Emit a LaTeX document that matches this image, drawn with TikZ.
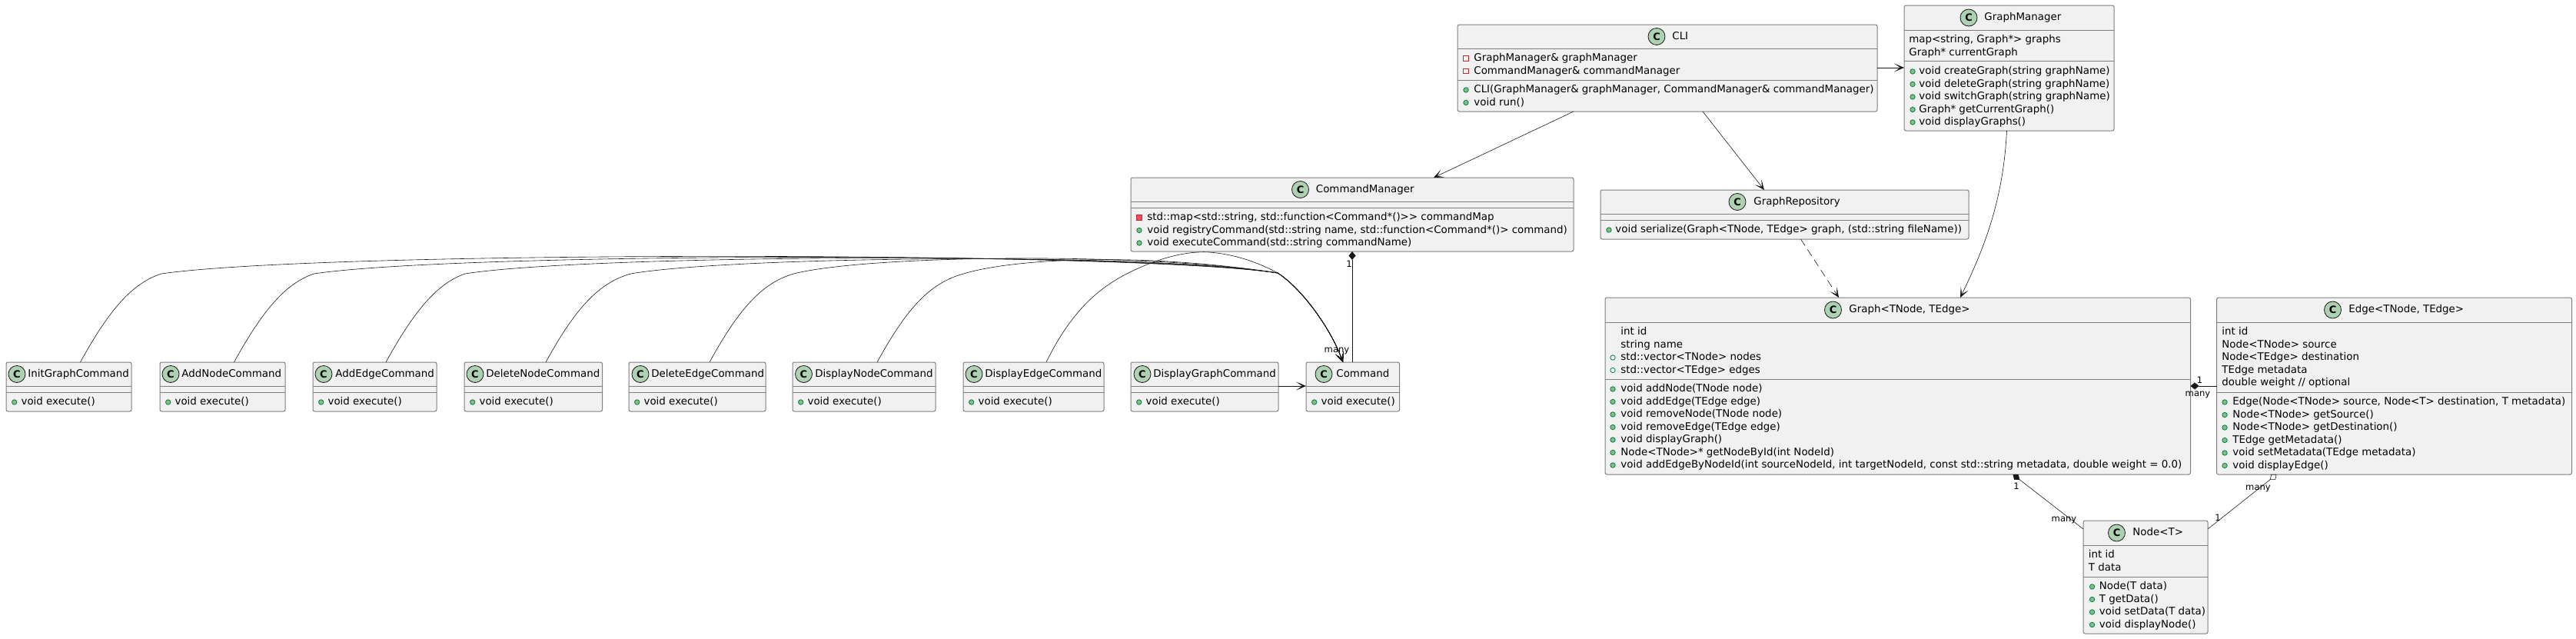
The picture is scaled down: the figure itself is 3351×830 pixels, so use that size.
\documentclass[tikz,border=0pt]{standalone}
\usepackage{fontspec}
\setmainfont{DejaVu Sans}
\usetikzlibrary{arrows.meta, fit}
\definecolor{boxfill}{HTML}{F1F1F1}
\definecolor{boxline}{HTML}{7F7F7F}
\definecolor{tagfill}{HTML}{ADD1B2}
\definecolor{tagline}{HTML}{181818}
\definecolor{pubfill}{HTML}{84BE84}
\definecolor{publine}{HTML}{038048}
\definecolor{privfill}{HTML}{F24D5C}
\definecolor{privline}{HTML}{C82930}
\tikzset{
  classbox/.style={draw=boxline, fill=boxfill, line width=.5pt, rounded corners=1.2pt, inner sep=0pt, outer sep=0pt},
  sepline/.style={draw=boxline, line width=.5pt},
  ctag/.style={circle, draw=tagline, fill=tagfill, line width=.4pt, minimum size=11pt, inner sep=0pt, font=\fontsize{6.5}{7}\selectfont\bfseries},
  title/.style={anchor=west, inner sep=0pt, font=\fontsize{6.7}{8}\selectfont, text height=5.2pt, text depth=1.4pt},
  member/.style={anchor=west, inner sep=0pt, font=\fontsize{6.7}{8}\selectfont, text height=5.2pt, text depth=1.4pt},
  role/.style={inner sep=0pt, font=\fontsize{5.8}{7}\selectfont, text height=4.6pt, text depth=1.2pt},
  noicon/.style={inner sep=0pt, minimum size=0pt},
  pubm/.style={circle, draw=publine, fill=pubfill, line width=.4pt, minimum size=3.2pt, inner sep=0pt},
  pubf/.style={circle, draw=publine, fill=none, line width=.4pt, minimum size=3.2pt, inner sep=0pt},
  privm/.style={rectangle, draw=privline, fill=privfill, line width=.4pt, minimum size=3.2pt, inner sep=0pt},
  privf/.style={rectangle, draw=privline, fill=none, line width=.4pt, minimum size=3.2pt, inner sep=0pt},
  link/.style={draw=tagline, line width=.3pt},
  solidtip/.style={-{Stealth[length=6.5pt, width=5.5pt, inset=4pt]}},
}
\newcommand{\classbox}[7]{
  \node[classbox, fit={(#2,#3) (#4,#5)}] (#1) {};
  \draw[sepline] (#2,#6) -- (#4,#6);
  \draw[sepline] (#2,#7) -- (#4,#7);
}
\newcommand{\classtitle}[5]{
  \node[ctag] (#1-c) at (#2,#3) {C};
  \node[title] (#1-t) at (#4,#3) {#5};
}
\newcommand{\memberlist}[5]{
  \foreach \ico/\txt [count=\i] in {#5} {
    \node[\ico] (#1-i\i) at (#2,{#4+16.5*(\i-1)}) {};
    \node[member] (#1-t\i) at (#3,{#4+16.5*(\i-1)}) {\txt};
  }
}

\begin{document}
\begin{tikzpicture}[x=.5pt, y=-.5pt]
\useasboundingbox (0,0) rectangle (3351,830);

\classbox{CLI}{1896}{32}{2442}{145}{63}{104}
\classtitle{CLI}{2155}{47.5}{2175}{CLI}
\memberlist{CLIf}{1907}{1917}{76}{privf/{GraphManager\& graphManager}, privf/{CommandManager\& commandManager}}
\memberlist{CLIm}{1907}{1917}{117}{pubm/{CLI(GraphManager\& graphManager, CommandManager\& commandManager)}, pubm/{void run()}}

\classbox{GraphManager}{2477}{7}{2750}{170}{39}{79}
\classtitle{GraphManager}{2561}{23}{2581}{GraphManager}
\memberlist{GraphManagerf}{2483}{2483}{52}{noicon/{map<string, Graph*> graphs}, noicon/{Graph* currentGraph}}
\memberlist{GraphManagerm}{2488}{2496}{93}{pubm/{void createGraph(string graphName)}, pubm/{void deleteGraph(string graphName)}, pubm/{void switchGraph(string graphName)}, pubm/{Graph* getCurrentGraph()}, pubm/{void displayGraphs()}}

\classbox{CommandManager}{1471}{231}{2047}{327}{262}{270}
\classtitle{CommandManager}{1691.5}{246.5}{1711.5}{CommandManager}
\memberlist{CommandManagerm}{1482}{1492}{283}{privm/{std::map<std::string, std::function<Command*()>{}> commandMap}, pubm/{void registryCommand(std::string name, std::function<Command*()> command)}, pubm/{void executeCommand(std::string commandName)}}

\classbox{GraphRepository}{2082}{247}{2561}{311}{278}{286}
\classtitle{GraphRepository}{2260}{262.5}{2281}{GraphRepository}
\memberlist{GraphRepositorym}{2093}{2101}{299}{pubm/{void serialize(Graph<TNode, TEdge> graph, (std::string fileName))}}

\foreach \name/\xa/\xb/\xi/\xt in {
  InitGraphCommand/8/171/22/36,
  AddNodeCommand/208/371/222/236,
  AddEdgeCommand/407/568/421/436,
  DeleteNodeCommand/604/783.5/618/632,
  DeleteEdgeCommand/818/996/833/847,
  DisplayNodeCommand/1031/1217/1045.5/1060,
  DisplayEdgeCommand/1253/1436/1267/1281,
  DisplayGraphCommand/1471/1663/1486/1500,
  Command/1699/1820.5/1722/1738} {
  \classbox{\name}{\xa}{471}{\xb}{535}{502}{510}
  \classtitle{\name}{\xi}{486.5}{\xt}{\name}
  \memberlist{\name m}{\xa+10.7}{\xa+19.2}{523}{pubm/{void execute()}}
}

\classbox{Graph}{2088}{387}{2849.5}{617}{419}{493}
\classtitle{Graph}{2384.5}{403}{2405}{Graph<TNode, TEdge>}
\memberlist{Graphf}{2098}{2108}{432}{noicon/{int id}, noicon/{string name}, pubf/{std::vector<TNode> nodes}, pubf/{std::vector<TEdge> edges}}
\memberlist{Graphm}{2098}{2108}{506}{pubm/{void addNode(TNode node)}, pubm/{void addEdge(TEdge edge)}, pubm/{void removeNode(TNode node)}, pubm/{void removeEdge(TEdge edge)}, pubm/{void displayGraph()}, pubm/{Node<TNode>* getNodeById(int NodeId)}, pubm/{void addEdgeByNodeId(int sourceNodeId, int targetNodeId, const std::string metadata, double weight = 0.0)}}

\classbox{Edge}{2883.5}{387}{3345.5}{617}{419}{510}
\classtitle{Edge}{3034.5}{403}{3055}{Edge<TNode, TEdge>}
\memberlist{Edgef}{2890}{2890}{432}{noicon/{int id}, noicon/{Node<TNode> source}, noicon/{Node<TEdge> destination}, noicon/{TEdge metadata}, noicon/{double weight // optional}}
\memberlist{Edgem}{2894}{2904}{523}{pubm/{Edge(Node<TNode> source, Node<T> destination, T metadata)}, pubm/{Node<TNode> getSource()}, pubm/{Node<TNode> getDestination()}, pubm/{TEdge getMetadata()}, pubm/{void setMetadata(TEdge metadata)}, pubm/{void displayEdge()}}

\classbox{NodeT}{2710}{677}{2872}{824}{709}{750}
\classtitle{NodeT}{2753.5}{693}{2774}{Node<T>}
\memberlist{NodeTf}{2716.5}{2716.5}{722}{noicon/{int id}, noicon/{T data}}
\memberlist{NodeTm}{2721.5}{2730.5}{763}{pubm/{Node(T data)}, pubm/{T getData()}, pubm/{void setData(T data)}, pubm/{void displayNode()}}

\coordinate (cliOutA) at (2047,145);
\coordinate (cliOutB) at (2215,145);
\coordinate (cliOutC) at (2442,88);
\coordinate (mgrIn) at (1865,231);
\coordinate (repoIn) at (2295,247);
\coordinate (gmIn) at (2477,88);
\draw[link, solidtip] (cliOutA) -- (mgrIn);
\draw[link, solidtip] (cliOutB) -- (repoIn);
\draw[link, solidtip] (cliOutC) -- (gmIn);

\coordinate (gmOut) at (2610.5,170);
\coordinate (graphInA) at (2550,387);
\draw[link, solidtip] (gmOut) .. controls (2606,255) and (2585,315) .. (graphInA);
\coordinate (repoOut) at (2342.5,311);
\coordinate (graphInB) at (2392,387);
\draw[link, solidtip, dashed, dash pattern=on 5pt off 3pt] (repoOut) -- (graphInB);

\coordinate (cmdJoin) at (1662,355);
\coordinate (cmdIn) at (1747,471);
\foreach \name/\sx/\kx/\cy in {
  InitGraphCommand/104.5/210/325,
  AddNodeCommand/304.5/408.5/328,
  AddEdgeCommand/502/605/331,
  DeleteNodeCommand/710/820.5/334,
  DeleteEdgeCommand/923/1032.5/332,
  DisplayNodeCommand/1141/1253.5/337} {
  \coordinate (\name-out) at (\sx,471);
  \draw[link, solidtip] (\name-out) .. controls (\sx+38,402) and (\sx+68,368) .. (\kx,356)
    .. controls ({\kx+.15*(1662-\kx)},\cy) and (1480,327) .. (cmdJoin)
    .. controls (1692,374) and (1730,425) .. (cmdIn);
}
\coordinate (DisplayEdgeCommand-out) at (1361,471);
\draw[link, solidtip] (DisplayEdgeCommand-out) .. controls (1392,408) and (1425,378) .. (1462,358)
  .. controls (1500,338) and (1540,326) .. (1573,328)
  .. controls (1610,331) and (1640,343) .. (cmdJoin)
  .. controls (1692,374) and (1730,425) .. (cmdIn);
\coordinate (dgOut) at (1663,502);
\coordinate (cmdSide) at (1699,502);
\draw[link, solidtip] (dgOut) -- (cmdSide);

\coordinate (mgrOut) at (1759,327);
\coordinate (cmdTop) at (1759,471);
\draw[link, {Diamond[length=5.5pt, width=4.5pt]}-] (mgrOut) -- (cmdTop);
\node[role] (mgrOne) at (1755,344) {1};
\node[role] (cmdMany) at (1739,455) {many};

\coordinate (graphSide) at (2849.5,502);
\coordinate (edgeSide) at (2883.5,502);
\draw[link, {Diamond[length=5.5pt, width=4.5pt]}-] (graphSide) -- (edgeSide);
\node[role] (graphOne) at (2861.5,495) {1};
\node[role] (edgeMany) at (2859,512) {many};

\coordinate (graphOut) at (2618.5,617);
\coordinate (nodeInA) at (2710,688);
\draw[link, {Diamond[length=5.5pt, width=4.5pt]}-] (graphOut) -- (nodeInA);
\node[role] (graphOneB) at (2623,633) {1};
\node[role] (nodeMany) at (2685,675) {many};

\coordinate (edgeOut) at (2961.5,617);
\coordinate (nodeInB) at (2872,688);
\draw[link, {Diamond[open, fill=white, length=5.5pt, width=4.5pt]}-] (edgeOut) -- (nodeInB);
\node[role] (edgeManyB) at (2937.5,634) {many};
\node[role] (nodeOne) at (2885,674) {1};
\end{tikzpicture}
\end{document}
